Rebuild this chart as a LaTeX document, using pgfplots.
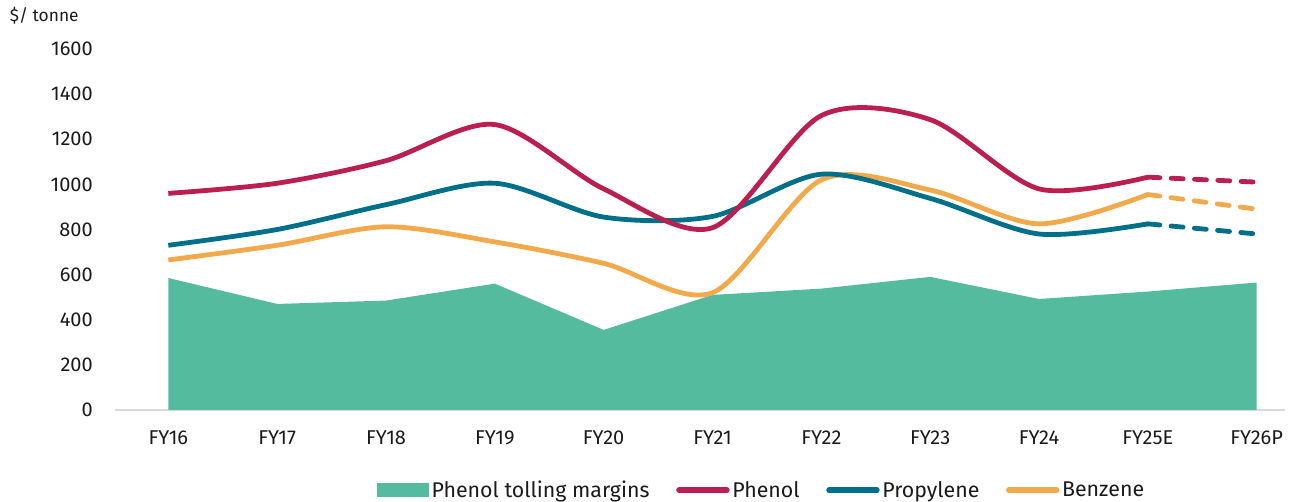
\documentclass[border=0pt]{standalone}
\usepackage{pgfplots}
\pgfplotsset{compat=1.18}
\usepackage{fontspec}
\setmainfont{Fira Sans}
\definecolor{cArea}{HTML}{55BB9F}
\definecolor{cPhenol}{HTML}{BA1F50}
\definecolor{cProp}{HTML}{00708A}
\definecolor{cBenz}{HTML}{F2A94B}
\definecolor{cAxis}{HTML}{D9D9D9}
\definecolor{cText}{HTML}{1A1A1A}
\begin{document}
\begin{tikzpicture}[font=\fontsize{15}{18}\selectfont, text=cText]
\begin{axis}[
  at={(0,0)}, anchor=south west,
  scale only axis, width=877.5pt, height=270.75pt,
  xmin=-0.49, xmax=10.26, ymin=0, ymax=1600,
  xtick={0,1,2,3,4,5,6,7,8,9,10},
  xticklabels={FY16,FY17,FY18,FY19,FY20,FY21,FY22,FY23,FY24,FY25E,FY26P},
  ytick={0,200,400,600,800,1000,1200,1400,1600},
  major tick length=0pt,
  axis x line*=bottom, axis y line*=left,
  separate axis lines,
  x axis line style={draw=cAxis, line width=1.1pt, -},
  y axis line style={draw=none},
  /pgf/number format/assume math mode=true,
  /pgf/number format/1000 sep={},
  yticklabel style={inner sep=0pt, anchor=east, xshift=-16.5pt},
  xticklabel style={inner sep=0pt, anchor=north, yshift=-15.5pt},
  legend style={at={(0.553,-0.222)}, anchor=center, draw=none, fill=none,
    legend columns=4, column sep=0pt, inner sep=0pt,
    /tikz/every even column/.append style={column sep=18pt},
    /tikz/every odd column/.append style={column sep=0pt},
    font=\fontsize{16}{19}\selectfont},
  legend cell align=left,
  legend image code/.code={\draw[#1, line width=4.5pt, line cap=round] (0cm,0pt) -- (1.25cm,0pt);},
]
\addlegendimage{legend image code/.code={\fill[cArea] (-0.05cm,-4.5pt) rectangle (1.3cm,5pt);}}
\addlegendentry{Phenol tolling margins}
\addlegendimage{cPhenol}\addlegendentry{Phenol}
\addlegendimage{cProp}\addlegendentry{Propylene}
\addlegendimage{cBenz}\addlegendentry{Benzene}

\addplot[fill=cArea, draw=none, forget plot] coordinates {
 (0,585) (1,470) (2,485) (3,560) (4,355) (5,510) (6,538) (7,590) (8,492) (9,525) (10,565)} \closedcycle;

\addplot[cBenz, line width=3.6pt, smooth, forget plot] coordinates {
 (0,665) (1,730) (2,812) (3,745) (4,650) (5,520) (6,1020) (7,975) (8,825) (9,955)};
\addplot[cBenz, line width=3.6pt, line cap=round, dash pattern=on 9pt off 8.5pt, forget plot] coordinates {
 (9,955) (10,890)};

\addplot[cProp, line width=3.6pt, smooth, forget plot] coordinates {
 (0,730) (1,800) (2,910) (3,1005) (4,855) (5,858) (6,1045) (7,938) (8,780) (9,825)};
\addplot[cProp, line width=3.6pt, line cap=round, dash pattern=on 9pt off 8.5pt, forget plot] coordinates {
 (9,825) (10,780)};

\addplot[cPhenol, line width=3.6pt, smooth, forget plot] coordinates {
 (0,960) (1,1005) (2,1105) (3,1265) (4,980) (5,808) (6,1305) (7,1287) (8,980) (9,1032)};
\addplot[cPhenol, line width=3.6pt, line cap=round, dash pattern=on 9pt off 8.5pt, forget plot] coordinates {
 (9,1032) (10,1010)};
\end{axis}
\node[anchor=west, inner sep=0pt, font=\fontsize{13}{15}\selectfont] at (-79pt,296pt) {\$/ tonne};
\pgfresetboundingbox
\path (-86.25pt,-69pt) rectangle (881.25pt,307.5pt);
\end{tikzpicture}
\end{document}
